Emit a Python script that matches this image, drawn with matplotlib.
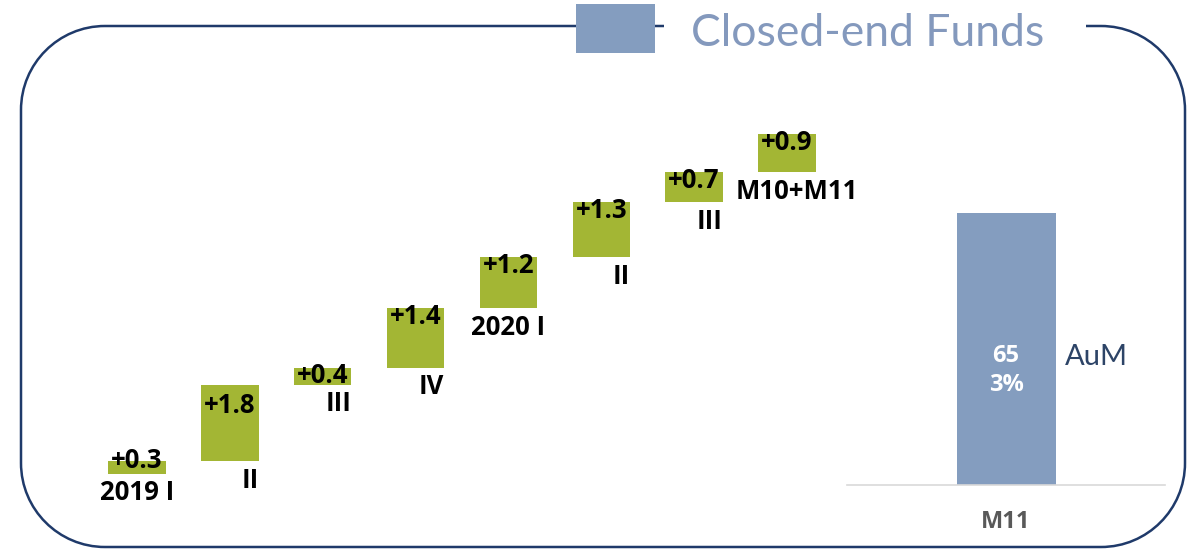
import matplotlib
matplotlib.use("Agg")
import matplotlib.pyplot as plt
import numpy as np
from matplotlib.path import Path
from matplotlib.patches import PathPatch, Rectangle

# ---- data ----
categories = ["2019 I", "II", "III", "IV", "2020 I", "II", "III", "M10+M11"]
changes = [0.3, 1.8, 0.4, 1.4, 1.2, 1.3, 0.7, 0.9]
change_labels = ["+0.3", "+1.8", "+0.4", "+1.4", "+1.2", "+1.3", "+0.7", "+0.9"]
aum_category = ["M11"]
aum_value = [65]
aum_share = ["3%"]
title = "Closed-end Funds"
aum_label = "AuM"

GREEN = "#A3B634"
BLUE = "#849DBF"
NAVY = "#1F3A6A"
TITLE_C = "#8499BD"
BOLDF = ["Open Sans", "DejaVu Sans"]

W, H = 1196, 552
fig = plt.figure(figsize=(W / 100, H / 100), dpi=100)
plt.rcParams['font.family'] = ['Lato', 'DejaVu Sans']

def fr(x0, y0, x1, y1):
    return [x0 / W, 1 - y1 / H, (x1 - x0) / W, (y1 - y0) / H]

# ---- background frame ----
bg = fig.add_axes([0, 0, 1, 1])
bg.set_xlim(0, W)
bg.set_ylim(H, 0)
bg.axis("off")

L, R, T, B, r = 21, 1185, 26, 547, 84
k = 0.5523
verts = [(1086, T), (R - r, T),
         (R - r + k * r, T), (R, T + r - k * r), (R, T + r),
         (R, B - r),
         (R, B - r + k * r), (R - r + k * r, B), (R - r, B),
         (L + r, B),
         (L + r - k * r, B), (L, B - r + k * r), (L, B - r),
         (L, T + r),
         (L, T + r - k * r), (L + r - k * r, T), (L + r, T),
         (664, T)]
codes = [Path.MOVETO, Path.LINETO,
         Path.CURVE4, Path.CURVE4, Path.CURVE4,
         Path.LINETO,
         Path.CURVE4, Path.CURVE4, Path.CURVE4,
         Path.LINETO,
         Path.CURVE4, Path.CURVE4, Path.CURVE4,
         Path.LINETO,
         Path.CURVE4, Path.CURVE4, Path.CURVE4,
         Path.LINETO]
bg.add_patch(PathPatch(Path(verts, codes), fill=False, edgecolor=NAVY, lw=1.8))
bg.add_patch(Rectangle((576, 4), 79, 49, facecolor=BLUE, edgecolor="none", zorder=3))
bg.text(691, 34, title, fontsize=32, color=TITLE_C, ha="left", va="center")

# ---- waterfall ----
ax = fig.add_axes(fr(90.5, 113, 833.5, 495))
ax.patch.set_alpha(0)
ax.set_xlim(-0.5, 7.5)
ax.set_ylim(-0.5, 8.5)
ax.axis("off")
x = np.arange(len(changes))
bottoms = np.concatenate([[0], np.cumsum(changes)[:-1]])
tops = bottoms + np.array(changes)
bw = 0.62
lbl_kw = dict(textcoords="offset points", fontsize=18.5, fontweight="bold",
              color="black", family=BOLDF)
ax.bar(x, changes, bottom=bottoms, width=bw, color=GREEN, edgecolor="none")
for i in range(len(changes)):
    dy = 10 if i == 0 else (-5 if i == 1 else 4)
    ax.annotate(change_labels[i], (x[i], tops[i]), xytext=(0, dy),
                ha="center", va="top", **lbl_kw)
    if len(categories[i]) <= 3:
        ax.annotate(categories[i], (x[i] + bw / 2, bottoms[i]), xytext=(0, -4),
                    ha="right", va="top", **lbl_kw)
    else:
        ax.annotate(categories[i], (x[i], bottoms[i]), xytext=(0 if i < 7 else 7, -4),
                    ha="center", va="top", **lbl_kw)

# ---- AuM bar ----
ax2 = fig.add_axes(fr(847, 150, 1165, 485))
ax2.patch.set_alpha(0)
ax2.set_xlim(-0.5, 0.5)
ax2.set_ylim(0, 80)
ax2.bar([0], aum_value, width=99 / 318, color=BLUE, edgecolor="none")
for s in ["top", "left", "right"]:
    ax2.spines[s].set_visible(False)
ax2.spines["bottom"].set_color("#D9D9D9")
ax2.spines["bottom"].set_linewidth(1.2)
ax2.set_yticks([])
ax2.set_xticks([0])
ax2.set_xticklabels(aum_category, fontsize=17, fontweight="bold", color="#595959", family=BOLDF)
ax2.tick_params(axis="x", length=0, pad=18)
ax2.text(0, aum_value[0] * 0.42, f"{aum_value[0]}\n{aum_share[0]}", ha="center", va="center",
         color="white", fontsize=17, fontweight="bold", linespacing=1.3, family=BOLDF)
ax2.text(0.5 * 99 / 318 + 0.03, aum_value[0] * 0.47, aum_label, ha="left", va="center",
         color="#2D4467", fontsize=21)

fig.savefig("out.png", dpi=100)
